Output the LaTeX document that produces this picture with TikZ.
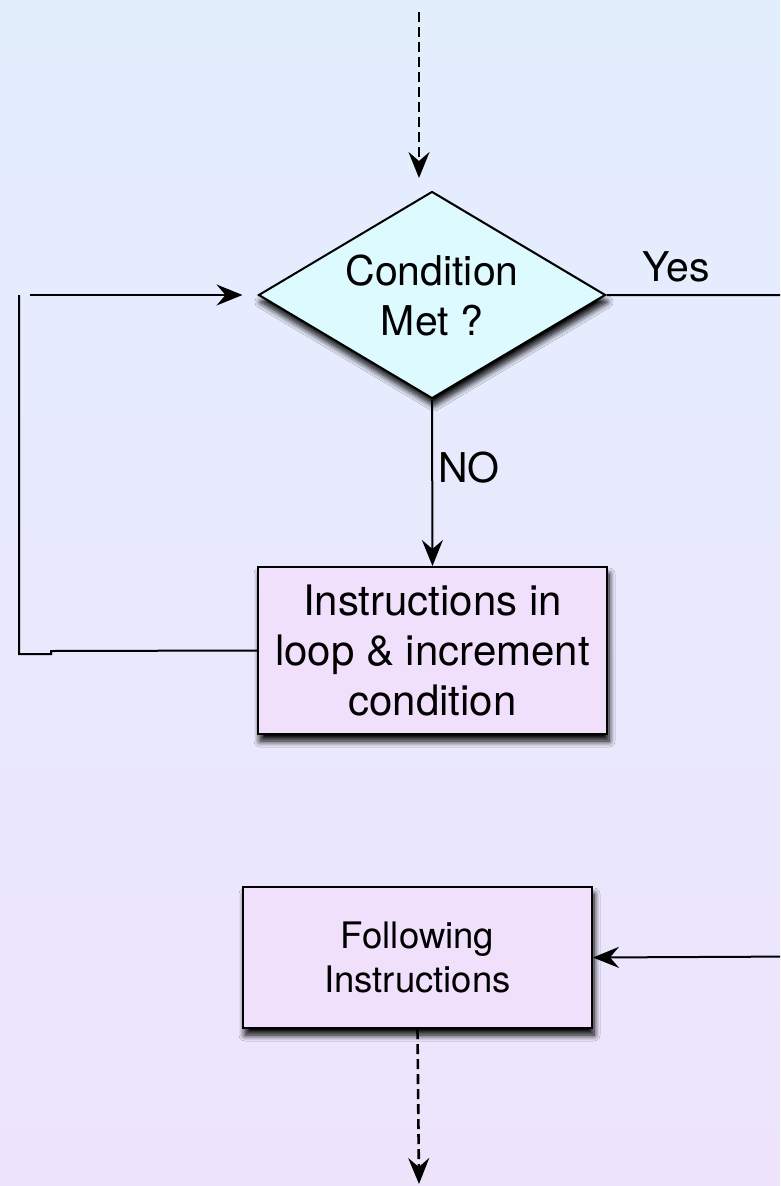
\documentclass[tikz,border=0pt]{standalone}
\usepackage{fontspec}
\setmainfont{TeX Gyre Heros}
\usetikzlibrary{shapes.geometric,arrows.meta,shadows.blur}

\definecolor{bgtop}{RGB}{227,238,253}
\definecolor{bgbottom}{RGB}{237,228,252}
\definecolor{decfill}{RGB}{221,250,255}
\definecolor{procfill}{RGB}{240,224,252}

\tikzset{
  flow/.style={line width=2pt, draw=black},
  tip/.style={-{Stealth[length=26pt,width=21pt,inset=9pt]}},
  dashline/.style={line width=2.6pt, dash pattern=on 10pt off 5pt},
  softshadow/.style={blur shadow={shadow xshift=2pt, shadow yshift=-7pt,
      shadow blur radius=6pt, shadow blur steps=8, shadow opacity=100}},
  decision/.style={diamond, aspect=1.676, draw=black, line width=2pt, fill=decfill,
      minimum width=347pt, minimum height=207pt, inner sep=2pt, softshadow,
      align=center, font=\fontsize{41}{50}\selectfont},
  process/.style={rectangle, draw=black, line width=2pt, fill=procfill,
      inner sep=2pt, softshadow, align=center},
  lbl/.style={font=\fontsize{41}{50}\selectfont, inner sep=0pt}
}

\begin{document}
\begin{tikzpicture}[x=1pt,y=-1pt]
  % page and background gradient
  \useasboundingbox (0,0) rectangle (780,1186);
  \clip (0,0) rectangle (780,1186);
  \shade[top color=bgtop, bottom color=bgbottom] (0,0) rectangle (780,1186);

  % shapes
  \node[decision] (cond) at (432,295) {Condition\\Met ?};
  \node[process, minimum width=349pt, minimum height=167pt,
        font=\fontsize{42}{50}\selectfont] (body) at (432.5,650.5)
        {Instructions in\\loop \& increment\\condition};
  \node[process, minimum width=349pt, minimum height=141pt,
        font=\fontsize{36.5}{44}\selectfont] (next) at (417.5,957.5)
        {Following\\Instructions};

  % loose ends of the flow
  \coordinate (entry) at (419,12);
  \coordinate (entryend) at (419,178);
  \coordinate (loopin) at (30,295);
  \coordinate (exit) at (419,1184);

  % incoming flow
  \draw[flow, dashline, tip] (entry) -- (entryend);

  % NO branch into loop body
  \draw[flow, tip] (cond.south) -- (body.north)
    node[lbl, pos=0.41, right=5pt] {NO};

  % loop back to the condition
  \draw[flow, line cap=butt] (body.west) -- (51,651) -- (51,654) -- (19,654) -- (19,295);
  \draw[flow, tip, shorten >=15pt] (loopin) -- (cond.west);

  % YES branch leaving the loop
  \draw[flow, tip] (cond.east) -- (800,295) -- (800,956.5) -- (next.east);
  \node[lbl] (yes) at (676,267) {Yes};

  % outgoing flow
  \draw[flow, dashline, tip] (next.south) -- (exit);
\end{tikzpicture}
\end{document}
